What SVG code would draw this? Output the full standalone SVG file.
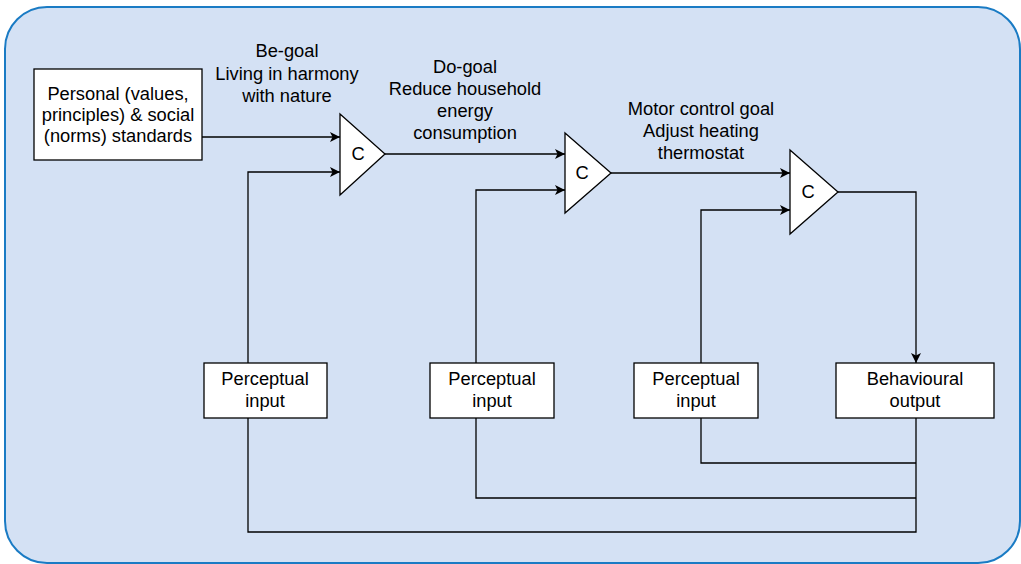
<svg xmlns="http://www.w3.org/2000/svg" width="1021" height="564" viewBox="0 0 1021 564">
<defs>
<marker id="arr" viewBox="0 0 10 10" refX="10" refY="5" markerWidth="10" markerHeight="10" markerUnits="userSpaceOnUse" orient="auto">
<path d="M0,0 L10,5 L0,10 L2.5,5 Z" fill="#000"/>
</marker>
<style>
text{font-family:"Liberation Sans",Arial,sans-serif;font-size:18.3px;fill:#000;text-anchor:middle}
.box{fill:#fff;stroke:#000;stroke-width:1.3}
.tri{fill:#fff;stroke:#000;stroke-width:1.3}
.ln{fill:none;stroke:#000;stroke-width:1.3}
.ar{fill:none;stroke:#000;stroke-width:1.3;marker-end:url(#arr)}
</style>
</defs>
<rect id="background" x="5" y="7" width="1015" height="556" rx="42" ry="42" fill="#d4e1f4" stroke="#1a7bc4" stroke-width="2"/>
<g id="connectors">
<path class="ar" d="M202,137 H340"/>
<path class="ar" d="M248,363 V172 H340"/>
<path class="ar" d="M385,154 H565"/>
<path class="ar" d="M476,363 V190 H565"/>
<path class="ar" d="M611,173 H790"/>
<path class="ar" d="M701,363 V210 H790"/>
<path class="ar" d="M838,192 H916 V363"/>
<path class="ln" d="M916,418 V532 H248 V418"/>
<path class="ln" d="M916,498 H476 V418"/>
<path class="ln" d="M916,463 H701 V418"/>
</g>
<g id="standards">
<rect class="box" x="34" y="69" width="168" height="91"/>
<text x="118" y="100">Personal (values,</text>
<text x="118" y="121">principles) &amp; social</text>
<text x="118" y="142">(norms) standards</text>
</g>
<g id="comparator1">
<path class="tri" d="M340,114 L385,154 L340,195 Z"/>
<text x="358" y="160">C</text>
</g>
<g id="comparator2">
<path class="tri" d="M565,133 L611,173 L565,213 Z"/>
<text x="582" y="179">C</text>
</g>
<g id="comparator3">
<path class="tri" d="M790,150 L838,192 L790,234 Z"/>
<text x="808" y="198">C</text>
</g>
<g id="label-be-goal">
<text x="287" y="57">Be-goal</text>
<text x="287" y="80">Living in harmony</text>
<text x="287" y="102">with nature</text>
</g>
<g id="label-do-goal">
<text x="465" y="73">Do-goal</text>
<text x="465" y="95">Reduce household</text>
<text x="465" y="117">energy</text>
<text x="465" y="139">consumption</text>
</g>
<g id="label-motor-goal">
<text x="701" y="115">Motor control goal</text>
<text x="701" y="137">Adjust heating</text>
<text x="701" y="159">thermostat</text>
</g>
<g id="perceptual1">
<rect class="box" x="204" y="363" width="123" height="55"/>
<text x="265" y="385">Perceptual</text>
<text x="265" y="407">input</text>
</g>
<g id="perceptual2">
<rect class="box" x="430" y="363" width="124" height="55"/>
<text x="492" y="385">Perceptual</text>
<text x="492" y="407">input</text>
</g>
<g id="perceptual3">
<rect class="box" x="634" y="363" width="124" height="55"/>
<text x="696" y="385">Perceptual</text>
<text x="696" y="407">input</text>
</g>
<g id="behavioural">
<rect class="box" x="836" y="363" width="158" height="55"/>
<text x="915" y="385">Behavioural</text>
<text x="915" y="407">output</text>
</g>
</svg>
